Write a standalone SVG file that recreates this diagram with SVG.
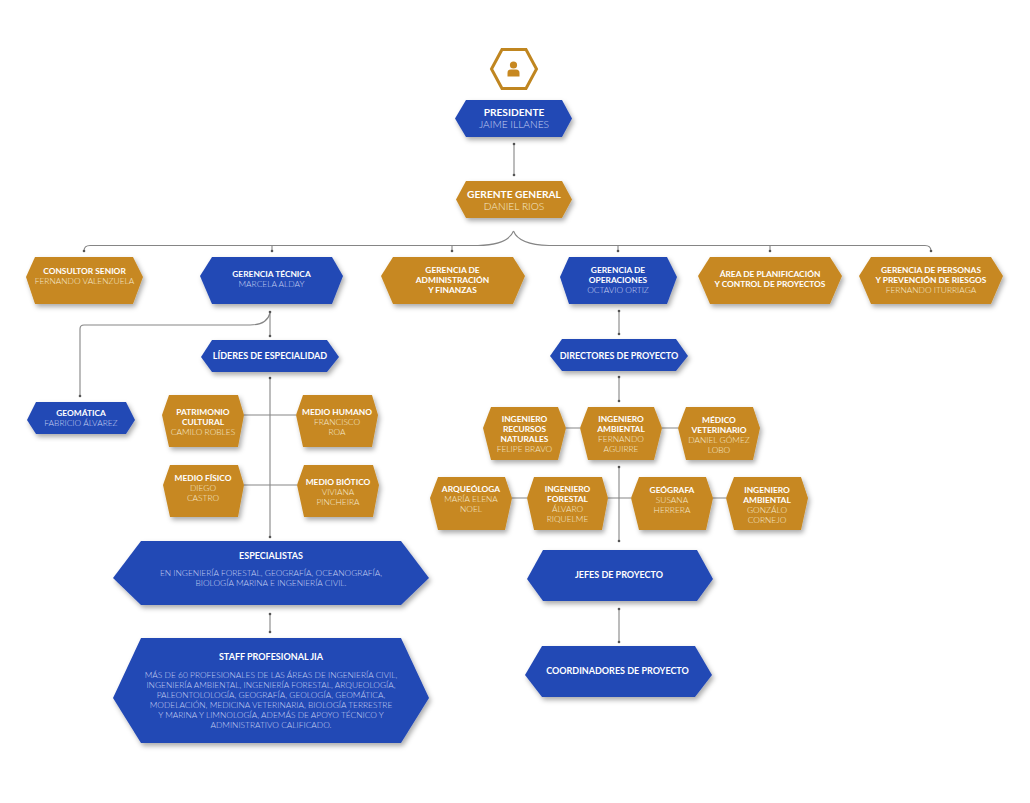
<svg xmlns="http://www.w3.org/2000/svg" width="1030" height="803" viewBox="0 0 1030 803">
<style>
text{font-family:Lato,"Open Sans","Liberation Sans",sans-serif;text-anchor:middle;font-size:8.4px}
.b{fill:#2348b5;filter:url(#sh)}
.g{fill:#c78820;filter:url(#sh)}
.t{fill:#fff;font-weight:700}
.nb{fill:#c6d0f2;font-weight:300}
.ng{fill:#f5e8cf;font-weight:300}
.big{font-size:10.2px}
.m{font-size:9px}
.c{fill:none;stroke:#858585;stroke-width:1.1;marker-end:url(#dot)}
.cs{marker-start:url(#dot)}
.p{fill:none;stroke:#858585;stroke-width:1.1}
</style>
<defs>
<filter id="sh" x="-15%" y="-15%" width="130%" height="140%"><feDropShadow dx="2" dy="3" stdDeviation="2.5" flood-color="#000" flood-opacity=".33"/></filter>
<marker id="dot" markerUnits="userSpaceOnUse" markerWidth="4" markerHeight="4" refX="2" refY="2"><circle cx="2" cy="2" r="1.3" fill="#555"/></marker>
</defs>
<rect width="1030" height="803" fill="#fff"/>
<g id="connectors">
<path class="c" d="M513.500 231C510 240 500 245 478 245.500H90Q84 245.500 84 251"/>
<path class="c" d="M513.500 231C517 240 527 245 549 245.500H925Q931 245.500 931 251"/>
<path class="c" d="M272 245.500V251"/><path class="c" d="M452 245.500V251"/><path class="c" d="M618 245.500V251"/><path class="c" d="M770 245.500V251"/>
<path class="c cs" d="M514 144V175"/>
<path class="c cs" d="M270 312V336"/>
<path class="c" d="M270 313C268 321 262 325 250 325H84Q80 325 80 329V396"/>
<path class="c cs" d="M619 311V334"/>
<path class="c cs" d="M619 377V401"/>
<path class="c cs" d="M270 378V537"/>
<path class="p" d="M244 415H296M244 485H297"/>
<path class="p" d="M566 428H580M662 428H678M512 498H527M608 498H631M713 498H726"/>
<path class="c cs" d="M619 467V541"/>
<path class="c cs" d="M270 614V632"/>
<path class="c cs" d="M619 609V642"/>
</g>
<g id="icono">
<polygon points="491.500,69 502,49.500 526,49.500 536.500,69 526,88.500 502,88.500" fill="#fff" stroke="#c08620" stroke-width="3"/>
<circle cx="513.500" cy="65" r="3.600" fill="#c78820"/>
<path d="M507.500 76.500V73Q507.500 69.500 511 69.500H516Q519.500 69.500 519.500 73V76.500Z" fill="#c78820"/>
</g>
<g id="presidente"><polygon class="b" points="455,118.500 466,100 562,100 572,118.500 562,137 466,137"/>
<text class="t big" x="514" y="116">PRESIDENTE</text><text class="nb big" x="514" y="128">JAIME ILLANES</text></g>
<g id="gerente-general"><polygon class="g" points="456,199.500 466,181 562,181 572,199.500 562,218 466,218"/>
<text class="t big" x="514" y="198">GERENTE GENERAL</text><text class="ng big" x="514" y="210">DANIEL RIOS</text></g>
<g id="consultor"><polygon class="g" points="26,277 35,257 133,257 143,277 133,304 35,304"/>
<text class="t" x="84.500" y="274">CONSULTOR SENIOR</text><text class="ng" x="84.500" y="284">FERNANDO VALENZUELA</text></g>
<g id="gerencia-tecnica"><polygon class="b" points="200,276 212,257 332,257 343,276 332,304 212,304"/>
<text class="t" x="271.500" y="277">GERENCIA TÉCNICA</text><text class="nb" x="271.500" y="287">MARCELA ALDAY</text></g>
<g id="gerencia-admin"><polygon class="g" points="381,276 393,257 513,257 525,276 513,304 393,304"/>
<text class="t" x="452.500" y="273">GERENCIA DE</text><text class="t" x="452.500" y="283">ADMINISTRACIÓN</text><text class="t" x="452.500" y="293">Y FINANZAS</text></g>
<g id="gerencia-operaciones"><polygon class="b" points="560,277 569,257 667,257 677,277 667,304 569,304"/>
<text class="t" x="618" y="273">GERENCIA DE</text><text class="t" x="618" y="283">OPERACIONES</text><text class="nb" x="618" y="293">OCTAVIO ORTIZ</text></g>
<g id="area-planificacion"><polygon class="g" points="698,276 710,257 830,257 842,276 830,304 710,304"/>
<text class="t" x="770" y="277">ÁREA DE PLANIFICACIÓN</text><text class="t" x="770" y="287">Y CONTROL DE PROYECTOS</text></g>
<g id="gerencia-personas"><polygon class="g" points="859,276 871,257 991,257 1003,276 991,304 871,304"/>
<text class="t" x="931" y="273">GERENCIA DE PERSONAS</text><text class="t" x="931" y="283">Y PREVENCIÓN DE RIESGOS</text><text class="ng" x="931" y="293">FERNANDO ITURRIAGA</text></g>
<g id="lideres"><polygon class="b" points="201,357 212,340 327,340 339,357 327,372 212,372"/>
<text class="t m" x="270" y="359">LÍDERES DE ESPECIALIDAD</text></g>
<g id="geomatica"><polygon class="b" points="27,420 36,402 126,402 135,420 126,434 36,434"/>
<text class="t" x="81" y="416">GEOMÁTICA</text><text class="nb" x="81" y="426">FABRICIO ÁLVAREZ</text></g>
<g id="directores"><polygon class="b" points="550,356 562,339 676,339 688,356 676,371 562,371"/>
<text class="t m" x="619" y="359">DIRECTORES DE PROYECTO</text></g>
<g id="patrimonio"><polygon class="g" points="162,415 169,395 238,395 244,415 238,447 169,447"/>
<text class="t" x="203" y="415">PATRIMONIO</text><text class="t" x="203" y="425">CULTURAL</text><text class="ng" x="203" y="435">CAMILO ROBLES</text></g>
<g id="medio-humano"><polygon class="g" points="296,415 303,395 372,395 378,415 372,447 303,447"/>
<text class="t" x="337" y="415">MEDIO HUMANO</text><text class="ng" x="337" y="425">FRANCISCO</text><text class="ng" x="337" y="435">ROA</text></g>
<g id="medio-fisico"><polygon class="g" points="163,485 170,465 238,465 244,485 238,517 170,517"/>
<text class="t" x="203" y="481">MEDIO FÍSICO</text><text class="ng" x="203" y="491">DIEGO</text><text class="ng" x="203" y="501">CASTRO</text></g>
<g id="medio-biotico"><polygon class="g" points="297,485 304,465 373,465 379,485 373,517 304,517"/>
<text class="t" x="338" y="485">MEDIO BIÓTICO</text><text class="ng" x="338" y="495">VIVIANA</text><text class="ng" x="338" y="505">PINCHEIRA</text></g>
<g id="ing-recursos"><polygon class="g" points="483,428 491,407 558,407 566,428 558,460 491,460"/>
<text class="t" x="524.500" y="422">INGENIERO</text><text class="t" x="524.500" y="432">RECURSOS</text><text class="t" x="524.500" y="442">NATURALES</text><text class="ng" x="524.500" y="452">FELIPE BRAVO</text></g>
<g id="ing-ambiental"><polygon class="g" points="580,428 588,407 654,407 662,428 654,460 588,460"/>
<text class="t" x="621" y="422">INGENIERO</text><text class="t" x="621" y="432">AMBIENTAL</text><text class="ng" x="621" y="442">FERNANDO</text><text class="ng" x="621" y="452">AGUIRRE</text></g>
<g id="medico"><polygon class="g" points="678,428 686,407 753,407 760,428 753,460 686,460"/>
<text class="t" x="719" y="423">MÉDICO</text><text class="t" x="719" y="433">VETERINARIO</text><text class="ng" x="719" y="443">DANIEL GÓMEZ</text><text class="ng" x="719" y="453">LOBO</text></g>
<g id="arqueologa"><polygon class="g" points="430,498 438,477 505,477 512,498 505,530 438,530"/>
<text class="t" x="471" y="492">ARQUEÓLOGA</text><text class="ng" x="471" y="502">MARÍA ELENA</text><text class="ng" x="471" y="512">NOEL</text></g>
<g id="ing-forestal"><polygon class="g" points="527,498 534,477 602,477 608,498 602,530 534,530"/>
<text class="t" x="567.500" y="492">INGENIERO</text><text class="t" x="567.500" y="502">FORESTAL</text><text class="ng" x="567.500" y="512">ÁLVARO</text><text class="ng" x="567.500" y="522">RIQUELME</text></g>
<g id="geografa"><polygon class="g" points="631,498 639,477 706,477 713,498 706,530 639,530"/>
<text class="t" x="672" y="493">GEÓGRAFA</text><text class="ng" x="672" y="503">SUSANA</text><text class="ng" x="672" y="513">HERRERA</text></g>
<g id="ing-ambiental-2"><polygon class="g" points="726,498 734,477 801,477 808,498 801,530 734,530"/>
<text class="t" x="767" y="493">INGENIERO</text><text class="t" x="767" y="503">AMBIENTAL</text><text class="ng" x="767" y="513">GONZÁLO</text><text class="ng" x="767" y="523">CORNEJO</text></g>
<g id="especialistas"><polygon class="b" points="113,578 141,541 401,541 429,578 401,605 141,605"/>
<text class="t m" x="271" y="558.500">ESPECIALISTAS</text><text class="nb" x="271" y="576">EN INGENIERÍA FORESTAL, GEOGRAFÍA, OCEANOGRAFÍA,</text><text class="nb" x="271" y="586">BIOLOGÍA MARINA E INGENIERÍA CIVIL.</text></g>
<g id="staff"><polygon class="b" points="113,698 141,638 401,638 429,698 401,743 141,743"/>
<text class="t m" x="271" y="660">STAFF PROFESIONAL JIA</text>
<text class="nb" x="271" y="678">MÁS DE 60 PROFESIONALES DE LAS ÁREAS DE INGENIERÍA CIVIL,</text>
<text class="nb" x="271" y="688">INGENIERÍA AMBIENTAL, INGENIERÍA FORESTAL, ARQUEOLOGÍA,</text>
<text class="nb" x="271" y="698">PALEONTOLOLOGÍA, GEOGRAFÍA, GEOLOGÍA, GEOMÁTICA,</text>
<text class="nb" x="271" y="708">MODELACIÓN, MEDICINA VETERINARIA, BIOLOGÍA TERRESTRE</text>
<text class="nb" x="271" y="718">Y MARINA Y LIMNOLOGÍA, ADEMÁS DE APOYO TÉCNICO Y</text>
<text class="nb" x="271" y="728">ADMINISTRATIVO CALIFICADO.</text></g>
<g id="jefes"><polygon class="b" points="527,579 543,550 697,550 713,579 697,601 543,601"/>
<text class="t m" x="619" y="578">JEFES DE PROYECTO</text></g>
<g id="coordinadores"><polygon class="b" points="525,675 542,646 695,646 712,675 695,697 542,697"/>
<text class="t m" x="617.500" y="674">COORDINADORES DE PROYECTO</text></g>
</svg>
